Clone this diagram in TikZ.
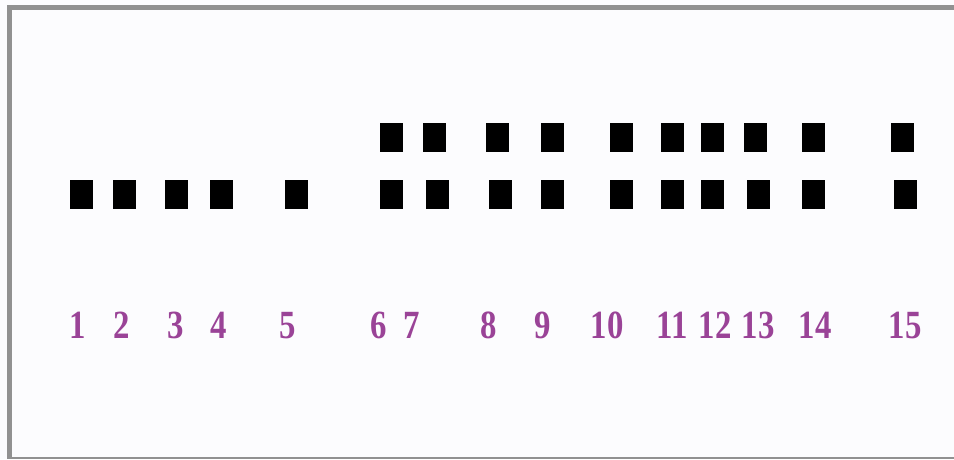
\documentclass[tikz,border=0pt]{standalone}
\usepackage{fontspec}
\setmainfont{Liberation Serif}
\definecolor{frame}{HTML}{919191}
\definecolor{bg}{HTML}{FCFCFE}
\definecolor{lab}{HTML}{9A4397}
\begin{document}
\begin{tikzpicture}[x=1pt,y=-1pt,
  sq/.style={fill=black,draw=none,minimum width=23pt,minimum height=29pt,inner sep=0pt},
  num/.style={text=lab,font=\bfseries\fontsize{40}{40}\selectfont,inner sep=0pt,anchor=base}]
\useasboundingbox (0,0) rectangle (954,459);
\fill[bg] (0,0) rectangle (954,459);
% frame
\fill[frame] (7,5) rectangle (954,10);
\fill[frame] (7,5) rectangle (12,459);
\fill[frame] (7,457) rectangle (954,459);
% top row
\foreach \x [count=\i] in {391.5,434.5,497.5,552.5,621,672.5,712.5,755.5,813.5,902.5}
  \node[sq] (t\i) at (\x,137.5) {};
% bottom row
\foreach \x [count=\i] in {81.5,124.5,176,221.5,296.5,391.5,437.5,500.5,552.5,621,672.5,712.5,758.5,813.5,905.5}
  \node[sq] (b\i) at (\x,194.5) {};
% labels
\foreach \x [count=\i] in {78,122,176,219,288,379,412,489,543,607,672,715,758,815,905}
  \node[num] (l\i) at (\x,338) {\scalebox{0.82}[1]{\i}};
\end{tikzpicture}
\end{document}
